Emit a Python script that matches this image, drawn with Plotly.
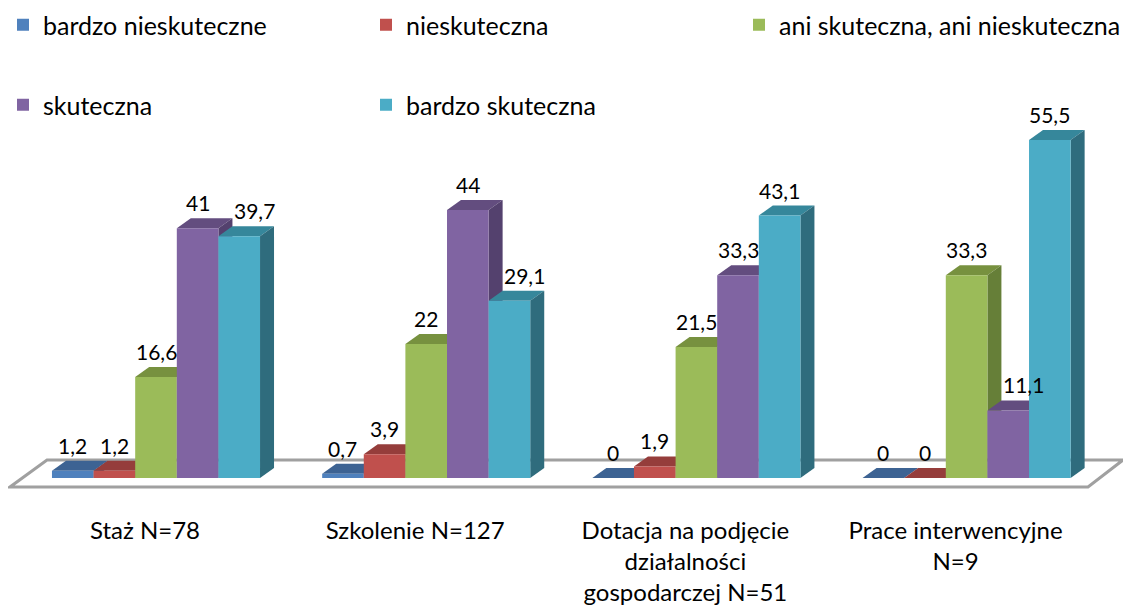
import plotly.graph_objects as go

categories = ["Staż N=78", "Szkolenie N=127", "Dotacja na podjęcie<br>działalności<br>gospodarczej N=51", "Prace interwencyjne<br>N=9"]
series_names = ["bardzo nieskuteczne", "nieskuteczna", "ani skuteczna, ani nieskuteczna", "skuteczna", "bardzo skuteczna"]
bardzo_nieskuteczne = [1.2, 0.7, 0, 0]
nieskuteczna = [1.2, 3.9, 1.9, 0]
ani_ani = [16.6, 22, 21.5, 33.3]
skuteczna = [41, 44, 33.3, 11.1]
bardzo_skuteczna = [39.7, 29.1, 43.1, 55.5]

series_values = [bardzo_nieskuteczne, nieskuteczna, ani_ani, skuteczna, bardzo_skuteczna]
front_colors = ["#4F81BD", "#C0504D", "#9BBB59", "#8064A2", "#4BACC6"]
top_colors = ["#3D6393", "#953D3B", "#77913F", "#634D7F", "#36879B"]
side_colors = ["#365A86", "#853634", "#667F38", "#54416E", "#2F6C7D"]

# legend entry placement (page pixels: left of text, vertical centre)
legend_text_x = [43, 406, 779, 43, 406]
legend_row_y = [25, 25, 25, 105, 105]

FONT = "Lato"
OFF = 8                      # default page margin of the html body
W, H = 1131 - OFF, 605 - OFF
MB = 91
plot_h = H - MB
px_x = 270.2                 # pixels per category
px_y = 6.09                  # pixels per percent
x0_px = 156 - OFF            # first group centre
zero_px = 478 - OFF          # value 0
x_range = [-x0_px / px_x, (W - x0_px) / px_x]
y_range = [-(plot_h - zero_px) / px_y, zero_px / px_y]

bargap = 0.23
n = len(series_values)
bw = (1 - bargap) / n
dx = 14 / px_x
dy = 10 / px_y


def xd(px):
    return (px - OFF - x0_px) / px_x


def yd(px):
    return (zero_px - (px - OFF)) / px_y


groups = list(range(len(categories)))
fig = go.Figure()
legend_ids = ["legend"] + [f"legend{k}" for k in range(2, n + 1)]
for i, (name, vals) in enumerate(zip(series_names, series_values)):
    fig.add_trace(go.Bar(
        x=groups, y=vals, name=name,
        marker=dict(color=front_colors[i], line=dict(width=0)),
        legend=legend_ids[i],
        hoverinfo="skip",
    ))

shapes = []
# floor plate
shapes.append(dict(type="path", xref="x", yref="y", layer="below",
                   path=(f"M{xd(10)},{yd(487)} L{xd(1088)},{yd(487)} "
                         f"L{xd(1123)},{yd(460)} L{xd(47)},{yd(460)} Z"),
                   fillcolor="white", line=dict(color="#A0A0A0", width=3)))

annotations = []
for g in groups:
    for i, vals in enumerate(series_values):
        v = vals[g]
        x0 = g - (1 - bargap) / 2 + i * bw
        x1 = x0 + bw
        shapes.append(dict(type="path", xref="x", yref="y", layer="below",
                           path=f"M{x0},{v} L{x1},{v} L{x1+dx},{v+dy} L{x0+dx},{v+dy} Z",
                           fillcolor=top_colors[i], line=dict(width=0)))
        shapes.append(dict(type="path", xref="x", yref="y", layer="below",
                           path=f"M{x1},0 L{x1},{v} L{x1+dx},{v+dy} L{x1+dx},{dy} Z",
                           fillcolor=side_colors[i], line=dict(width=0)))
        # labels move right when the bar on their left is taller (as in the original)
        prev_taller = i > 0 and series_values[i - 1][g] > v
        annotations.append(dict(x=(x0 + x1) / 2, y=v, xref="x", yref="y",
                                text=f"{v:g}".replace(".", ","), showarrow=False,
                                yanchor="bottom", yshift=11, xshift=15 if prev_taller else 0,
                                font=dict(family=FONT, size=21, color="#000000")))

legends = {}
for i, lid in enumerate(legend_ids):
    legends[lid] = dict(orientation="h", xanchor="left", yanchor="middle",
                        x=(legend_text_x[i] - 40 - OFF) / W,
                        y=1 - (legend_row_y[i] - OFF) / plot_h,
                        itemclick=False, itemdoubleclick=False,
                        font=dict(family=FONT, size=25, color="#000000"),
                        bgcolor="rgba(0,0,0,0)")

fig.update_layout(
    width=W, height=H,
    margin=dict(l=0, r=0, t=0, b=MB, autoexpand=False),
    paper_bgcolor="white", plot_bgcolor="white",
    barmode="group", bargap=bargap, bargroupgap=0,
    shapes=shapes, annotations=annotations,
    font=dict(family=FONT, size=22, color="#000000"),
    xaxis=dict(range=x_range, tickmode="array", tickvals=[g - 11 / px_x for g in groups],
               ticktext=categories, showgrid=False, zeroline=False, showline=False, ticks="",
               automargin=False, fixedrange=True, tickfont=dict(family=FONT, size=24, color="#000000")),
    yaxis=dict(range=y_range, visible=False, showgrid=False, zeroline=False, automargin=False),
    showlegend=True,
    **legends,
)

fig.write_html("out.html")
